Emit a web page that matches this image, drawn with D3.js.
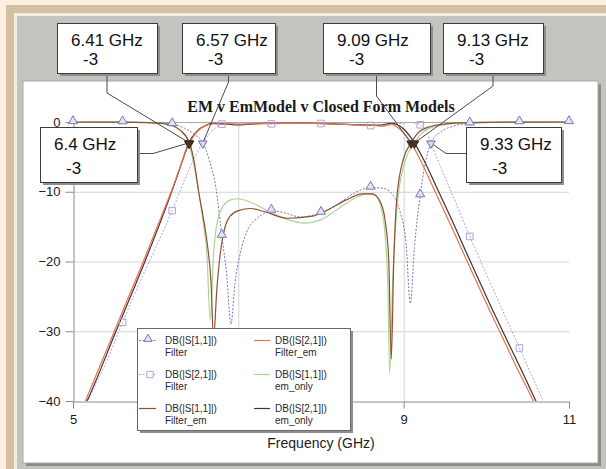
<!DOCTYPE html>
<html>
<head>
<meta charset="utf-8">
<script src="https://cdn.jsdelivr.net/npm/d3@7"></script>
<style>
    body { margin: 0; background: #fcefdf; }
    svg { display: block; }
    text { font-family: Arial, "Liberation Sans", sans-serif; }
</style>
</head>
<body>
<svg id="chart" width="606" height="469"></svg>
<script>
// --- Data

const title = 'EM v EmModel v Closed Form Models'
const xLabel = 'Frequency (GHz)'
const freqTicks = [5, 7, 9, 11]
const dbTicks = [0, -10, -20, -30, -40]
const freqGrid = [7, 9]
const dbGrid = [0, -10, -20, -30]

// DB(|S[1,1]|) Filter (closed form), dotted, triangles
const s11Filter = [[5.0, 0], [5.6, -0.02], [6.0, -0.12], [6.2, -0.3], [6.35, -0.9], [6.47, -1.8], [6.57, -3],
    [6.65, -5.5], [6.73, -9.5], [6.8, -16.3], [6.86, -22], [6.91, -29], [6.96, -23], [7.02, -19], [7.1, -15.8],
    [7.2, -14.1], [7.3, -13.2], [7.4, -12.7], [7.55, -13], [7.75, -13.6], [8.0, -13], [8.2, -11.8], [8.4, -10.2],
    [8.6, -9.4], [8.75, -9.5], [8.87, -10.5], [8.96, -13], [9.03, -17.5], [9.08, -26], [9.13, -18], [9.2, -10.5],
    [9.26, -6], [9.33, -3], [9.45, -1.4], [9.6, -0.6], [9.8, -0.2], [10.4, -0.02], [11.0, 0]]
const s11FilterMarks = [[5.0, 0], [5.6, -0.02], [6.2, -0.3], [6.8, -16.3], [7.4, -12.7], [8.0, -13], [8.6, -9.4],
    [9.2, -10.5], [9.8, -0.2], [10.4, -0.02], [11.0, 0]]

// DB(|S[2,1]|) Filter, dotted, squares
const s21Filter = [[5.0, -45], [5.18, -40], [5.4, -34.5], [5.6, -28.7], [5.8, -23.2], [6.0, -18], [6.2, -12.7],
    [6.35, -8.3], [6.45, -5.6], [6.57, -3], [6.65, -1.7], [6.73, -0.8], [6.8, -0.3], [6.9, -0.12], [7.1, -0.15],
    [7.4, -0.25], [7.7, -0.2], [8.0, -0.22], [8.3, -0.32], [8.6, -0.5], [8.8, -0.45], [8.95, -0.25], [9.07, -0.05],
    [9.2, -0.4], [9.27, -1.2], [9.33, -3], [9.45, -6.5], [9.6, -10.7], [9.8, -16.4], [10.0, -21.8], [10.2, -27.1],
    [10.4, -32.4], [10.6, -37.7], [10.7, -40.3], [10.85, -44]]
const s21FilterMarks = [[5.6, -28.7], [6.2, -12.7], [6.8, -0.3], [7.4, -0.25], [8.0, -0.22], [8.6, -0.5],
    [9.2, -0.4], [9.8, -16.4], [10.4, -32.4]]

// DB(|S[1,1]|) Filter_em
const s11FilterEm = [[5.0, 0], [5.6, -0.02], [5.9, -0.08], [6.1, -0.25], [6.2, -0.5], [6.3, -1.2], [6.41, -3],
    [6.47, -6], [6.52, -10], [6.58, -14], [6.63, -18], [6.67, -23], [6.70, -31], [6.74, -24], [6.78, -19],
    [6.83, -15.5], [6.9, -13.5], [7.0, -12.7], [7.15, -12.4], [7.3, -12.8], [7.6, -13.8], [7.9, -13.5],
    [8.1, -12.5], [8.3, -11.2], [8.5, -10.3], [8.62, -10.3], [8.72, -11.5], [8.78, -14.5], [8.82, -20],
    [8.85, -34], [8.88, -20], [8.92, -10.5], [9.0, -5.2], [9.09, -3], [9.2, -1.3], [9.4, -0.45], [9.7, -0.12],
    [10.2, -0.03], [11.0, 0]]

// DB(|S[2,1]|) Filter_em
const s21FilterEm = [[5.0, -44.3], [5.15, -40], [5.5, -30], [5.85, -20], [6.0, -15.6], [6.1, -12.6], [6.2, -9.6],
    [6.3, -6.3], [6.41, -3], [6.5, -1.4], [6.6, -0.55], [6.7, -0.25], [6.8, -0.3], [6.9, -0.25], [7.0, -0.3],
    [7.2, -0.25], [7.6, -0.2], [8.0, -0.22], [8.4, -0.4], [8.6, -0.45], [8.75, -0.6], [8.85, -0.3], [8.95, -1.0],
    [9.0, -1.6], [9.09, -3], [9.2, -5.4], [9.35, -9.2], [9.5, -13], [9.75, -19.5], [10.0, -26], [10.2, -31],
    [10.4, -36], [10.57, -40], [10.7, -43.5]]

// DB(|S[1,1]|) em_only
const s11EmOnly = [[5.0, 0], [5.6, -0.02], [5.9, -0.08], [6.1, -0.25], [6.2, -0.5], [6.3, -1.2], [6.4, -3],
    [6.46, -6], [6.52, -10], [6.57, -14], [6.62, -19], [6.66, -28.5], [6.7, -19], [6.75, -14], [6.82, -12],
    [6.9, -11.2], [7.0, -11], [7.15, -11.5], [7.4, -13], [7.6, -14], [7.8, -14.5], [8.0, -14], [8.2, -12.5],
    [8.4, -11], [8.55, -10.3], [8.65, -10.5], [8.72, -12], [8.77, -15.5], [8.81, -24], [8.83, -36], [8.87, -22],
    [8.93, -11], [9.02, -5.5], [9.13, -3], [9.25, -1.3], [9.45, -0.45], [9.75, -0.12], [10.3, -0.03], [11.0, 0]]

// DB(|S[2,1]|) em_only
const s21EmOnly = [[5.0, -44], [5.17, -40], [5.52, -30], [5.87, -20], [6.2, -9.8], [6.3, -6.4], [6.4, -3],
    [6.5, -1.3], [6.6, -0.5], [6.7, -0.2], [6.9, -0.35], [7.0, -0.4], [7.3, -0.2], [7.8, -0.15], [8.2, -0.3],
    [8.5, -0.42], [8.7, -0.45], [8.85, -0.2], [9.0, -1.0], [9.13, -3], [9.25, -5.6], [9.4, -9.4], [9.55, -13.2],
    [9.8, -19.8], [10.05, -26.3], [10.25, -31.3], [10.45, -36.2], [10.6, -40], [10.75, -43.7]]

// -3 dB readouts
const readoutFreqs = [6.41, 6.57, 9.09, 9.13, 6.4, 9.33]
const readoutDbs = [-3, -3, -3, -3, -3, -3]
const readoutClosedForm = [false, true, false, false, false, true]

// legend text
const legendNames = ['DB(|S[1,1]|)', 'DB(|S[2,1]|)', 'DB(|S[1,1]|)', 'DB(|S[2,1]|)', 'DB(|S[1,1]|)', 'DB(|S[2,1]|)']
const legendSources = ['Filter', 'Filter', 'Filter_em', 'Filter_em', 'em_only', 'em_only']

// --- Styles / layout

const seriesStyle = [
    {data: s11Filter, color: '#7676bb', dash: '2,1.6', marks: s11FilterMarks, symbol: 'tri'},
    {data: s21Filter, color: '#b3a3d9', dash: '2,1.6', marks: s21FilterMarks, symbol: 'sq'},
    {data: s11FilterEm, color: '#8e5030', dash: null},
    {data: s21FilterEm, color: '#e8734c', dash: null},
    {data: s11EmOnly, color: '#a9d597', dash: null},
    {data: s21EmOnly, color: '#3e3434', dash: null},
]
const drawOrder = [1, 0, 4, 2, 5, 3]

// callout boxes: x, y, w, h, side the leader leaves from, elbow
const callouts = [
    {x: 57, y: 23, w: 100, h: 50, side: 'bottom', elbow: 93},
    {x: 182, y: 23, w: 93, h: 50, side: 'bottom', elbow: 82},
    {x: 323, y: 23, w: 107, h: 50, side: 'bottom', elbow: 96},
    {x: 443, y: 23, w: 100, h: 50, side: 'bottom', elbow: 86},
    {x: 40, y: 127, w: 97, h: 55, side: 'right', elbow: 153},
    {x: 466, y: 127, w: 95, h: 55, side: 'left', elbow: 446},
]

const svg = d3.select('#chart')

// scales
const x = d3.scaleLinear().domain([5, 11]).range([73, 569])
const y = d3.scaleLinear().domain([0, -40]).range([122, 401])

// --- Frames

svg.append('rect').attr('x', 0).attr('y', 0).attr('width', 606).attr('height', 469).attr('fill', '#fcefdf')
svg.append('rect').attr('x', 6).attr('y', 5).attr('width', 600).attr('height', 464).attr('fill', '#d5bfa2')
svg.append('rect').attr('x', 14).attr('y', 13).attr('width', 592).attr('height', 456).attr('fill', '#f7ece0')
svg.append('rect').attr('x', 17).attr('y', 16).attr('width', 589).attr('height', 453).attr('fill', '#c3c3bf')
// plot panel with shadow
svg.append('rect').attr('x', 26).attr('y', 84).attr('width', 575).attr('height', 382).attr('fill', '#8b8b88')
svg.append('rect').attr('x', 23).attr('y', 81).attr('width', 575).attr('height', 382)
    .attr('fill', '#fff').attr('stroke', '#a9a9a6').attr('stroke-width', 1)

// --- Grid and axes

const grid = svg.append('g').attr('class', 'grid')
grid.selectAll('line.h').data(dbGrid).enter().append('line')
    .attr('x1', x(5)).attr('x2', x(11))
    .attr('y1', d => y(d) + 0.5).attr('y2', d => y(d) + 0.5)
    .attr('stroke', d => d === 0 ? '#a8a8a8' : '#d4d4d4')
grid.selectAll('line.v').data(freqGrid).enter().append('line')
    .attr('x1', d => x(d) + 0.5).attr('x2', d => x(d) + 0.5)
    .attr('y1', y(0)).attr('y2', y(-40))
    .attr('stroke', '#d4d4d4')

const axisY = d3.axisLeft(y).tickValues(dbTicks).tickFormat(d3.format('d'))
    .tickSize(8).tickSizeOuter(0).tickPadding(5)
const axisX = d3.axisBottom(x).tickValues(freqTicks).tickFormat(d3.format('d'))
    .tickSize(7).tickSizeOuter(0).tickPadding(6)

function styleAxis(g) {
    g.select('.domain').attr('stroke', '#8a8a8a')
    g.selectAll('.tick line').attr('stroke', '#8a8a8a')
    g.selectAll('.tick text').attr('fill', '#1a1a1a').attr('font-size', 13)
        .attr('font-family', 'Arial, "Liberation Sans", sans-serif')
}
svg.append('g').attr('transform', `translate(${x(5) + 0.5},0)`).call(axisY).call(styleAxis)
svg.append('g').attr('transform', `translate(0,${y(-40) + 0.5})`).call(axisX).call(styleAxis)

svg.append('text').attr('x', (x(5) + x(11)) / 2).attr('y', 448)
    .attr('text-anchor', 'middle').attr('font-size', 14).attr('fill', '#222').text(xLabel)
svg.append('text').attr('x', (x(5) + x(11)) / 2).attr('y', 112)
    .attr('text-anchor', 'middle').attr('font-size', 16).attr('font-weight', 'bold')
    .style('font-family', '"Liberation Serif", "Times New Roman", serif').attr('fill', '#1a1a1a')
    .text(title)

// --- Curves

svg.append('clipPath').attr('id', 'plotClip').append('rect')
    .attr('x', x(5)).attr('y', y(0) - 8).attr('width', x(11) - x(5)).attr('height', y(-40) - y(0) + 8)

const line = d3.line().x(d => x(d[0])).y(d => y(d[1])).curve(d3.curveMonotoneX)
const curves = svg.append('g').attr('clip-path', 'url(#plotClip)')
drawOrder.forEach(i => {
    const s = seriesStyle[i]
    curves.append('path')
        .attr('d', line(s.data))
        .attr('fill', 'none')
        .attr('stroke', s.color)
        .attr('stroke-width', s.dash ? 1 : 1.2)
        .attr('stroke-dasharray', s.dash)
})

// point markers on the closed form traces
const triUp = d3.symbol(d3.symbolTriangle, 36)
const square = d3.symbol(d3.symbolSquare, 44)
seriesStyle.filter(s => s.marks).forEach(s => {
    svg.append('g').selectAll('path')
        .data(s.marks.filter(d => d[1] >= -40))
        .enter().append('path')
        .attr('d', s.symbol === 'tri' ? triUp : square)
        .attr('transform', d => `translate(${x(d[0])},${y(d[1]) - (s.symbol === 'tri' ? 1 : 0)})`)
        .attr('fill', s.symbol === 'tri' ? '#e3e3f1' : 'none')
        .attr('stroke', s.color)
        .attr('stroke-width', 1)
})

// --- Readouts

const triDown = d3.symbol(d3.symbolTriangle, 32)
const readouts = readoutFreqs.map((f, i) => ({freq: f, db: readoutDbs[i], closed: readoutClosedForm[i], box: callouts[i]}))

const leaders = svg.append('g')
readouts.forEach(r => {
    const b = r.box
    const mx = x(r.freq), my = y(r.db)
    let pts
    if (b.side === 'bottom') {
        const cx = b.x + b.w / 2
        pts = [[cx, b.y + b.h], [cx, b.elbow], [mx, my]]
    } else if (b.side === 'right') {
        const cy = b.y + b.h / 2 - 1
        pts = [[b.x + b.w, cy], [b.elbow, cy], [mx, my]]
    } else {
        const cy = b.y + b.h / 2 - 1
        pts = [[b.x, cy], [b.elbow, cy], [mx, my]]
    }
    leaders.append('path').attr('d', d3.line()(pts))
        .attr('fill', 'none').attr('stroke', '#4a4a4a').attr('stroke-width', 1)
})

svg.append('g').selectAll('path').data(readouts).enter().append('path')
    .attr('d', triDown)
    .attr('transform', d => `translate(${x(d.freq)},${y(d.db) + 0.5}) rotate(180)`)
    .attr('fill', d => d.closed ? '#d9d9ee' : '#4b3322')
    .attr('stroke', d => d.closed ? '#6d6daa' : '#3a2616')
    .attr('stroke-width', 1)

const boxes = svg.append('g').selectAll('g').data(readouts).enter().append('g')
boxes.append('rect')
    .attr('x', d => d.box.x + 3).attr('y', d => d.box.y + 3)
    .attr('width', d => d.box.w).attr('height', d => d.box.h).attr('fill', '#8e8e8c')
boxes.append('rect')
    .attr('x', d => d.box.x + 0.5).attr('y', d => d.box.y + 0.5)
    .attr('width', d => d.box.w).attr('height', d => d.box.h)
    .attr('fill', '#fff').attr('stroke', '#3c3c3c')
boxes.append('text')
    .attr('x', d => d.box.x + 14).attr('y', d => d.box.y + 23)
    .attr('font-size', 17).attr('fill', '#111')
    .text(d => `${d.freq} GHz`)
boxes.append('text')
    .attr('x', d => d.box.x + 26).attr('y', d => d.box.y + d.box.h - 8)
    .attr('font-size', 17).attr('fill', '#111')
    .text(d => d.db)

// --- Legend

const legend = svg.append('g').attr('transform', 'translate(137,328)')
legend.append('rect').attr('x', 3).attr('y', 3).attr('width', 213).attr('height', 102).attr('fill', '#8e8e8c')
legend.append('rect').attr('x', 0.5).attr('y', 0.5).attr('width', 213).attr('height', 102)
    .attr('fill', '#fff').attr('stroke', '#6a6a6a')

const legendItems = legend.selectAll('g.item').data(seriesStyle).enter().append('g')
    .attr('transform', (d, i) => `translate(${i < 3 ? 0 : 117},${(i % 3) * 34})`)
legendItems.append('line')
    .attr('x1', (d, i) => i < 3 ? 2 : 0).attr('x2', (d, i) => i < 3 ? 19 : 16)
    .attr('y1', 12.5).attr('y2', 12.5)
    .attr('stroke', d => d.color).attr('stroke-width', 1.2)
    .attr('stroke-dasharray', d => d.dash)
legendItems.filter(d => d.marks).append('path')
    .attr('d', d => d.symbol === 'tri' ? d3.symbol(d3.symbolTriangle, 30)() : d3.symbol(d3.symbolSquare, 40)())
    .attr('transform', d => d.symbol === 'tri' ? 'translate(11,11)' : 'translate(13,12.5)')
    .attr('fill', d => d.symbol === 'tri' ? '#e3e3f1' : '#fff')
    .attr('stroke', d => d.color)
legendItems.append('text')
    .attr('x', (d, i) => i < 3 ? 28 : 21).attr('y', 16)
    .attr('font-size', 10).attr('fill', '#2a2a2a')
    .text((d, i) => legendNames[i])
legendItems.append('text')
    .attr('x', (d, i) => i < 3 ? 28 : 21).attr('y', 28)
    .attr('font-size', 10).attr('fill', '#2a2a2a')
    .text((d, i) => legendSources[i])
</script>
</body>
</html>
